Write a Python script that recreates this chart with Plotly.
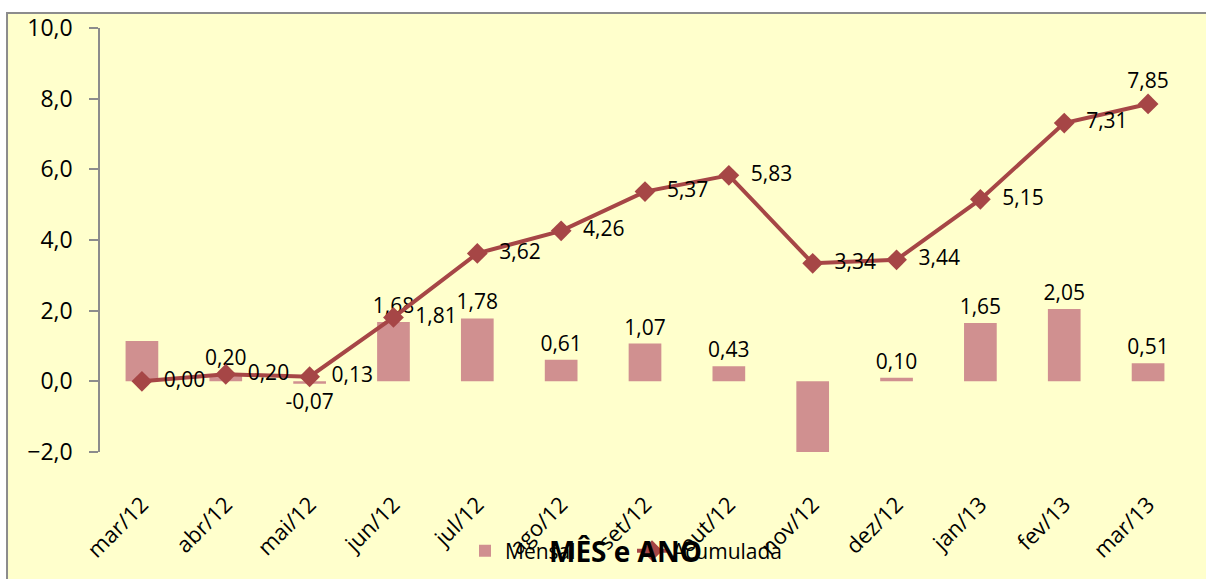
import plotly.graph_objects as go

meses = ["mar/12", "abr/12", "mai/12", "jun/12", "jul/12", "ago/12", "set/12",
         "out/12", "nov/12", "dez/12", "jan/13", "fev/13", "mar/13"]
mensal = [1.14, 0.20, -0.07, 1.68, 1.78, 0.61, 1.07, 0.43, -2.35, 0.10, 1.65, 2.05, 0.51]
mensal_rotulo = [False, True, True, True, True, True, True, True, False, True, True, True, True]
acumulada = [0.00, 0.20, 0.13, 1.81, 3.62, 4.26, 5.37, 5.83, 3.34, 3.44, 5.15, 7.31, 7.85]
acumulada_pos = ["middle right"] * 12 + ["top center"]
y_ticks = [-2, 0, 2, 4, 6, 8, 10]


def br(v):
    return f"{v:.2f}".replace(".", ",")


FONT = "Open Sans"
BAR_C = "#D09090"
LINE_C = "#A64646"
AX_C = "#8C8C8C"
PAD = "\u00a0\u00a0"

fig = go.Figure()
fig.add_trace(go.Bar(
    x=meses, y=mensal, name="Mensal", marker=dict(color=BAR_C, line=dict(width=0)),
    width=0.39,
    text=[br(v) if s else "" for v, s in zip(mensal, mensal_rotulo)],
    textposition="outside", constraintext="none",
    textfont=dict(family=FONT, size=21, color="black"),
    cliponaxis=True,
))
fig.add_trace(go.Scatter(
    x=meses, y=acumulada, name="Acumulada", mode="lines+markers+text",
    line=dict(color=LINE_C, width=4),
    marker=dict(symbol="diamond", size=16, color=LINE_C),
    text=[(PAD if p.endswith("right") else "") + br(v) for v, p in zip(acumulada, acumulada_pos)],
    textposition=acumulada_pos,
    textfont=dict(family=FONT, size=21, color="black"),
    cliponaxis=False,
))

bounds = [i - 0.5 for i in range(len(meses) + 1)]
zero_pos = (0 - y_ticks[0]) / (y_ticks[-1] - y_ticks[0])

fig.update_layout(
    width=1206, height=579,
    margin=dict(l=100, r=16, t=28, b=127),
    paper_bgcolor="white", plot_bgcolor="rgba(0,0,0,0)",
    separators=",.",
    font=dict(family=FONT, size=21, color="black"),
    bargap=0.6,
    showlegend=True,
    legend=dict(orientation="h", xref="container", yref="container",
                x=465 / 1206, y=(579 - 551) / 579, xanchor="left", yanchor="middle",
                entrywidth=122, entrywidthmode="pixels",
                bgcolor="rgba(0,0,0,0)", font=dict(size=21), traceorder="normal"),
    xaxis=dict(type="category", range=[-0.5, len(meses) - 0.5], showline=False, showgrid=False,
               ticks="outside", ticklen=30, tickcolor="rgba(0,0,0,0)", tickangle=-45,
               tickfont=dict(size=22), zeroline=False, automargin=False),
    xaxis2=dict(overlaying="x", anchor="free", position=zero_pos, range=[-0.5, len(meses) - 0.5],
                tickvals=bounds, ticks="outside", ticklen=8, tickwidth=2, tickcolor=AX_C,
                showline=True, linecolor=AX_C, linewidth=2, showticklabels=False, showgrid=False,
                zeroline=False, automargin=False),
    xaxis3=dict(overlaying="x", anchor="free", position=zero_pos, range=[-0.5, len(meses) - 0.5],
                tickvals=bounds, ticks="inside", ticklen=8, tickwidth=2, tickcolor=AX_C,
                showline=False, showticklabels=False, showgrid=False, zeroline=False,
                automargin=False),
    yaxis=dict(range=[y_ticks[0], y_ticks[-1]], tickvals=y_ticks, tickformat=".1f",
               ticks="outside", ticklen=9, tickwidth=1.5, tickcolor=AX_C,
               showline=True, linecolor=AX_C, linewidth=1.5, showgrid=False, zeroline=False,
               tickfont=dict(size=23), ticklabelstandoff=12, automargin=False),
    yaxis2=dict(overlaying="y", anchor="x", side="left", range=[y_ticks[0], y_ticks[-1]],
                tickvals=y_ticks, ticks="inside", ticklen=9, tickwidth=1.5, tickcolor=AX_C,
                showticklabels=False, showline=False, showgrid=False, zeroline=False,
                automargin=False),
    shapes=[dict(type="rect", xref="paper", yref="paper", x0=-0.0853, x1=1.06, y0=-0.35, y1=1.0355,
                 fillcolor="#FFFFCC", line=dict(color="#8C8C8C", width=2), layer="below")],
    annotations=[dict(text="<b>MÊS e ANO</b>", xref="paper", yref="paper", x=0.482, y=-0.234,
                      xanchor="center", yanchor="middle", showarrow=False,
                      font=dict(family=FONT, size=28, color="black"))],
)

fig.write_html("out.html", config={"displayModeBar": False},
               post_script="document.body.style.margin='0';document.body.style.padding='0';document.body.style.overflow='hidden';")
